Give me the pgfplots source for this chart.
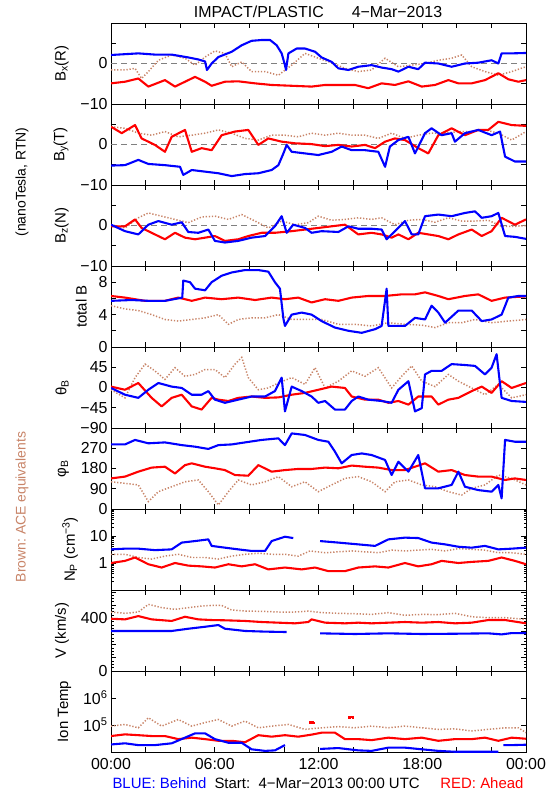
\documentclass[border=0pt]{standalone}
\usepackage{fontspec}
\setmainfont{Liberation Sans}
\usepackage{pgfplots}
\pgfplotsset{compat=1.18}
\definecolor{acebrown}{RGB}{200,132,104}
\definecolor{stblue}{RGB}{0,0,255}
\definecolor{stred}{RGB}{255,0,0}
\newcommand{\fs}{\fontsize{14}{16}\selectfont}
\newcommand{\ft}{\fontsize{16}{18}\selectfont}
\newcommand{\fl}{\fontsize{15}{17}\selectfont}
\pgfplotsset{
  panel/.style={
    scale only axis, width=415bp, height=81bp,
    xmin=0, xmax=24, xtick={0,2,...,24}, xticklabels={},
    tick align=inside, major tick length=5bp, minor tick length=2.5bp,
    axis line style={line width=0.9pt},
    every tick/.style={black, line width=0.8pt},
    tick label style={font=\ft},
    label style={font=\fl},
    ylabel shift=5bp,
    unbounded coords=jump,
    anchor=north west,
  },
  bl/.style={stblue, line width=2.1pt, line join=round},
  rd/.style={stred, line width=2.1pt, line join=round},
  br/.style={acebrown, line width=1.5pt, dash pattern=on 1.3pt off 1.8pt},
  zero/.style={gray, line width=0.8pt, dash pattern=on 6bp off 4bp},
  bfield/.style={ymin=-10, ymax=10, ytick={-10,-5,0,5,10}, yticklabels={−10,,0,,}},
}
\begin{document}
\begin{tikzpicture}
\path[use as bounding box] (0bp,0bp) rectangle (550bp,-800bp);
\node[font=\ft] at (318bp,-12bp) {IMPACT/PLASTIC\hspace{28bp}4−Mar−2013};
\node[font=\fs, rotate=90] at (22bp,-182bp) {(nanoTesla,\ RTN)};
\node[font=\fs, rotate=90, text=acebrown] at (22bp,-507bp) {Brown:\ ACE equivalents};
\node[font=\fl, anchor=west, text=stblue] at (109bp,-783bp) {BLUE:\ Behind};
\node[font=\fl, anchor=west] at (211bp,-783bp) {Start:\ \ 4−Mar−2013 00:00 UTC};
\node[font=\fl, anchor=east, text=stred] at (527bp,-783bp) {RED:\ Ahead};

% ---------------- Bx
\begin{axis}[panel, bfield, at={(111bp,-23bp)}, ylabel={B\textsubscript{x}(R)}]
\addplot[zero] coordinates {(0,0) (24,0)};
\addplot[br] coordinates {(0,-1.6)(0.81,-1.6)(1.39,-1.2)(1.77,-3.7)(2.16,-2.0)(2.74,0.8)(3.51,2.1)(4.28,1.3)(4.86,-0.4)(5.44,1.6)(6.01,3.1)(6.59,2.5)(6.98,-0.8)(7.56,0.4)(8.13,-2.0)(8.91,-2.0)(9.68,-2.9)(10.45,-0.4)(11.22,2.5)(11.99,1.3)(12.76,0.2)(13.53,-1.2)(14.30,-2.0)(15.07,-1.6)(15.85,1.3)(16.62,-0.8)(17.39,-0.4)(18.16,0)(18.93,0.8)(19.70,1.3)(20.28,2.1)(20.86,-0.8)(21.63,-2.0)(22.40,-2.9)(23.17,-2.0)(24,-0.8)};
\addplot[rd] coordinates {(0,-4.9)(0.81,-4.5)(1.58,-3.7)(2.16,-5.7)(3.12,-4.1)(3.70,-5.7)(4.28,-4.5)(4.86,-3.3)(5.44,-4.5)(5.82,-5.5)(6.59,-4.5)(7.36,-4.4)(8.33,-4.9)(9.29,-5.3)(10.45,-5.5)(11.60,-5.7)(12.38,-5.3)(13.15,-5.3)(14.11,-5.3)(14.88,-6.1)(15.65,-4.9)(16.42,-5.3)(17.20,-4.4)(17.97,-5.7)(18.74,-5.3)(19.51,-4.1)(20.09,-4.9)(20.86,-4.9)(21.63,-4.1)(22.40,-2.4)(22.98,-3.9)(23.56,-4.5)(24,-4.1)};
\addplot[bl] coordinates {(0,2.1)(1.58,2.5)(2.54,2.2)(3.51,2.2)(4.47,1.5)(5.05,1.0)(5.44,0.5)(5.55,-1.6)(5.82,0)(6.21,1.6)(6.98,2.9)(7.56,4.5)(8.13,5.6)(8.71,5.8)(9.20,5.8)(9.58,4.5)(9.87,2.5)(10.06,-0.4)(10.12,-1.6)(10.26,2.5)(10.74,3.7)(11.22,3.7)(11.80,2.9)(12.18,1.5)(12.76,0.4)(13.15,-1.2)(13.73,-1.6)(14.30,-0.8)(15.07,-0.4)(15.65,-1.0)(16.23,-1.4)(16.62,-2.0)(17.20,-0.8)(17.77,-1.4)(18.16,0.2)(18.93,0)(19.70,-0.8)(20.47,0)(21.24,0.2)(22.01,0.8)(22.40,0)(22.59,2.5)(23.17,2.5)(24,2.6)};
\end{axis}

% ---------------- By
\begin{axis}[panel, bfield, at={(111bp,-104bp)}, ylabel={B\textsubscript{y}(T)}]
\addplot[zero] coordinates {(0,0) (24,0)};
\addplot[br] coordinates {(0,4.4)(0.81,4.0)(1.58,2.8)(2.35,2.3)(3.12,3.2)(3.89,1.9)(4.67,2.3)(5.44,2.8)(6.21,3.6)(6.98,2.8)(7.75,1.5)(8.52,1.1)(9.29,2.3)(10.06,2.3)(10.83,1.9)(11.60,2.8)(12.38,2.3)(13.15,2.8)(13.92,2.3)(14.69,2.3)(15.46,1.5)(16.23,2.8)(17.00,1.5)(17.77,2.3)(18.54,2.8)(19.32,2.8)(20.09,3.2)(20.86,3.2)(21.63,3.6)(22.40,2.8)(23.17,1.1)(24,3.2)};
\addplot[rd] coordinates {(0,4.4)(0.62,2.8)(1.39,4.8)(1.77,1.5)(2.54,-0.1)(3.12,-1.8)(3.51,1.9)(4.28,3.6)(4.67,-1.8)(5.24,-0.9)(5.82,-1.4)(6.40,2.3)(7.17,3.2)(7.94,3.6)(8.52,-0.1)(9.10,1.5)(9.87,0.7)(10.64,0.3)(11.60,0.1)(12.38,-0.4)(13.15,-0.1)(13.92,-0.5)(14.69,-0.1)(15.27,-0.9)(15.85,0.7)(16.42,1.5)(17.00,1.1)(17.77,-0.9)(18.35,-2.2)(18.93,2.3)(19.70,4.0)(20.47,2.3)(21.24,3.6)(21.82,3.6)(22.40,5.6)(23.17,4.8)(24,4.6)};
\addplot[bl] coordinates {(0,-5.2)(0.81,-5.1)(1.58,-3.8)(2.16,-4.8)(3.12,-5.1)(3.99,-5.5)(4.18,-7.5)(4.67,-6.3)(5.44,-6.7)(6.21,-7.1)(6.98,-7.8)(7.75,-7.3)(8.52,-7.1)(9.29,-6.3)(9.68,-5.1)(9.97,-2.2)(10.16,-0.1)(10.45,-1.8)(11.22,-2.2)(11.99,-2.6)(12.76,-1.8)(13.34,-0.5)(13.92,-1.4)(14.69,-1.4)(15.46,-1.8)(15.85,-5.5)(16.13,-0.5)(16.62,1.1)(17.20,1.9)(17.58,-2.2)(18.16,2.8)(18.54,4.0)(19.12,2.3)(19.70,2.8)(19.89,0.7)(20.47,2.8)(21.24,3.6)(22.01,2.3)(22.50,3.2)(22.79,-3.0)(23.36,-4.2)(24,-4.2)};
\end{axis}

% ---------------- Bz
\begin{axis}[panel, bfield, at={(111bp,-185bp)}, ylabel={B\textsubscript{z}(N)}]
\addplot[zero] coordinates {(0,0) (24,0)};
\addplot[br] coordinates {(0,0.2)(0.81,-0.6)(1.58,1.9)(2.16,3.1)(2.93,2.3)(3.70,1.5)(4.47,0.7)(5.24,2.1)(6.01,2.3)(6.79,1.5)(7.56,2.7)(8.33,1.1)(9.10,-0.6)(9.87,1.1)(10.64,0.2)(11.41,0.7)(11.99,2.3)(12.76,1.3)(13.53,1.5)(14.30,1.9)(15.07,1.5)(15.65,1.9)(16.42,0.2)(17.20,1.3)(17.97,1.5)(18.74,0.8)(19.51,1.9)(20.28,1.1)(21.05,1.1)(21.82,1.3)(22.59,-0.2)(23.36,-0.2)(24,0)};
\addplot[rd] coordinates {(0,-0.2)(0.81,-0.2)(1.39,1.5)(1.77,-0.6)(2.54,-2.2)(3.12,-3.4)(3.70,-1.8)(4.28,-3.0)(4.86,-3.4)(5.44,-3.0)(6.01,-2.6)(6.59,-3.8)(7.36,-3.4)(7.94,-2.6)(8.71,-1.8)(9.48,-1.8)(10.45,-1.4)(11.22,-1.0)(11.99,-0.6)(12.76,-0.2)(13.53,0.2)(14.30,-2.2)(15.07,-1.8)(15.65,-2.2)(16.23,-3.0)(16.62,-2.2)(17.20,-3.4)(17.77,-1.8)(18.35,-2.2)(18.93,-2.6)(19.51,-3.4)(20.09,-2.2)(20.86,-1.0)(21.44,-2.6)(22.01,-1.4)(22.59,1.9)(23.36,0.2)(24,1.5)};
\addplot[bl] coordinates {(0,0.2)(0.81,-1.4)(1.58,-2.2)(2.16,0.2)(2.74,1.1)(3.51,0.2)(4.09,0.8)(4.47,-1.6)(5.05,-1.8)(5.63,-1.0)(6.01,-3.8)(6.59,-4.2)(7.36,-3.8)(8.13,-3.0)(8.91,-2.6)(9.48,-0.2)(9.87,2.3)(10.16,-1.8)(10.54,0.2)(11.22,-0.6)(11.60,-1.8)(12.18,-1.4)(13.15,-1.6)(13.73,-0.2)(14.30,-0.8)(15.07,-0.8)(15.65,-1.0)(15.94,-3.4)(16.42,-1.4)(17.00,1.1)(17.39,-2.2)(17.77,-2.2)(18.16,2.3)(18.93,2.7)(19.70,2.3)(20.47,3.1)(21.05,3.5)(21.44,1.9)(22.01,2.3)(22.40,3.1)(22.79,-2.6)(23.36,-2.8)(24,-3.3)};
\end{axis}

% ---------------- total B
\begin{axis}[panel, at={(111bp,-266bp)}, ymin=0, ymax=10, ytick={0,2,...,10}, yticklabels={0,,4,,8,}, ylabel={total B}]
\addplot[br] coordinates {(0,5.1)(0.81,4.7)(1.58,4.5)(2.35,4.0)(3.12,3.4)(3.89,3.2)(4.67,3.4)(5.44,3.6)(6.21,4.0)(6.79,2.8)(7.36,3.4)(8.13,3.6)(8.91,3.6)(9.68,4.0)(10.45,3.4)(11.22,3.4)(12.18,3.4)(13.15,2.8)(14.11,2.8)(15.07,2.6)(16.04,3.0)(17.00,2.8)(17.97,2.7)(18.74,2.4)(19.51,3.0)(20.28,3.0)(21.05,3.4)(22.01,3.0)(22.98,3.2)(24,3.4)};
\addplot[rd] coordinates {(0,6.3)(0.81,6.1)(1.97,5.7)(3.12,5.7)(3.89,6.1)(4.67,5.7)(5.44,6.1)(6.40,5.9)(7.36,6.1)(8.33,5.8)(9.29,6.1)(10.06,5.9)(10.83,6.1)(11.60,5.5)(12.38,5.9)(13.15,5.7)(13.92,6.1)(14.88,6.3)(15.85,6.3)(16.81,6.5)(17.58,6.5)(18.16,6.75)(18.93,6.3)(19.51,5.9)(20.47,6.3)(21.24,6.5)(22.01,5.7)(22.79,6.1)(24,6.25)};
\addplot[bl] coordinates {(0,5.7)(1.20,5.8)(2.16,5.7)(3.12,5.7)(3.89,6.0)(4.12,6.1)(4.18,8.2)(4.57,8.0)(4.86,7.2)(5.44,7.0)(5.82,8.0)(6.40,8.8)(6.98,9.2)(7.75,9.5)(8.52,9.5)(9.10,9.3)(9.48,8.0)(9.77,7.2)(9.97,3.5)(10.06,2.6)(10.45,4.0)(11.03,4.25)(11.60,4.0)(12.18,3.2)(12.95,2.4)(13.73,2.0)(14.50,1.75)(15.27,2.2)(15.65,2.6)(15.94,7.2)(16.04,2.6)(17.00,2.6)(17.58,3.6)(18.16,3.4)(18.54,5.1)(18.93,4.25)(19.32,3.0)(20.09,4.5)(20.86,4.5)(21.44,3.2)(22.01,3.4)(22.59,4.0)(22.98,6.1)(23.56,6.3)(24,6.3)};
\end{axis}

% ---------------- theta
\begin{axis}[panel, at={(111bp,-347bp)}, ymin=-90, ymax=90, ytick={-90,-45,0,45,90}, yticklabels={−90,−45,0,45,}, ylabel={θ\textsubscript{B}}]
\addplot[br] coordinates {(0,-5)(0.81,-23)(1.39,22)(1.97,52)(2.54,37)(3.12,18)(3.70,44)(4.28,25)(4.86,29)(5.44,40)(6.01,40)(6.59,22)(7.17,52)(7.56,67)(7.94,22)(8.52,-5)(9.10,-1)(9.68,10)(10.45,22)(11.22,7)(11.80,44)(12.38,-1)(13.15,14)(13.92,37)(14.69,25)(15.46,44)(16.23,-1)(16.81,25)(17.39,48)(17.97,14)(18.74,2)(19.51,29)(20.09,14)(20.86,-1)(21.63,-16)(22.40,7)(23.17,-23)(24,-16)};
\addplot[rd] coordinates {(0,2)(0.81,-5)(1.58,10)(2.35,-23)(2.93,-42)(3.51,-23)(4.09,-16)(4.67,-42)(5.24,-49)(5.82,-23)(6.21,-27)(6.79,-30)(7.36,-23)(8.13,-20)(8.91,-23)(9.68,-22)(10.45,-16)(11.22,-12)(11.99,-5)(12.76,2)(13.53,-1)(13.92,-20)(14.69,-27)(15.46,-27)(16.04,-34)(16.62,-30)(17.20,-38)(17.77,-20)(18.54,-20)(18.93,-38)(19.51,-27)(20.09,-23)(20.86,-8)(21.44,2)(22.01,-12)(22.59,14)(23.17,-1)(24,10)};
\addplot[bl] coordinates {(0,-1)(0.81,-16)(1.58,-23)(2.16,-5)(2.74,10)(3.51,2)(4.09,-1)(4.67,-16)(5.24,-16)(5.63,-8)(6.01,-27)(6.59,-34)(7.36,-27)(8.13,-20)(8.91,-20)(9.48,-8)(9.87,22)(10.06,-53)(10.45,2)(11.03,-8)(11.60,-20)(11.99,-34)(12.38,-30)(12.95,-49)(13.53,-49)(13.92,-30)(14.30,-20)(14.88,-27)(15.65,-30)(16.23,-34)(16.62,-5)(17.20,14)(17.58,-53)(17.97,-46)(18.16,29)(18.54,37)(19.12,37)(19.70,52)(20.47,50)(21.05,48)(21.63,29)(22.01,44)(22.30,74)(22.59,-23)(23.17,-30)(24,-32)};
\end{axis}

% ---------------- phi
\begin{axis}[panel, at={(111bp,-428bp)}, ymin=0, ymax=360, ytick={0,90,180,270,360}, yticklabels={0,90,180,270,}, ylabel={φ\textsubscript{B}}]
\addplot[br] coordinates {(0,121)(0.81,114)(1.58,107)(2.16,33)(2.74,77)(3.51,99)(4.28,121)(5.05,129)(5.63,77)(6.21,18)(6.79,77)(7.36,129)(8.13,107)(8.91,121)(9.68,144)(10.45,99)(11.22,121)(11.99,77)(12.76,107)(13.53,136)(14.30,144)(15.07,121)(15.85,77)(16.42,121)(17.20,129)(17.97,107)(18.74,99)(19.51,77)(20.28,62)(20.86,92)(21.63,107)(22.40,151)(23.17,136)(24,107)};
\addplot[rd] coordinates {(0,136)(0.81,144)(1.58,166)(2.35,184)(3.12,188)(3.70,158)(4.28,195)(4.67,203)(5.44,188)(6.01,181)(6.59,173)(7.17,151)(7.94,148)(8.52,195)(9.29,166)(10.06,173)(10.83,178)(11.60,178)(12.38,184)(13.15,181)(13.92,193)(14.69,188)(15.46,184)(16.23,173)(17.00,173)(17.58,188)(18.16,203)(18.93,166)(19.70,173)(20.47,151)(21.24,144)(22.01,144)(22.79,129)(23.36,136)(24,129)};
\addplot[bl] coordinates {(0,287)(0.81,287)(1.39,307)(2.16,292)(3.12,296)(4.09,284)(4.86,277)(5.63,267)(6.21,284)(6.98,287)(7.75,296)(8.71,307)(9.68,314)(10.06,284)(10.45,336)(11.22,329)(11.99,307)(12.57,299)(12.95,255)(13.34,203)(13.92,240)(14.50,247)(15.07,240)(15.85,218)(16.23,151)(16.62,210)(17.20,166)(17.77,240)(18.16,92)(18.93,92)(19.70,107)(20.09,166)(20.47,99)(21.24,84)(22.01,77)(22.40,107)(22.59,47)(22.79,307)(23.36,299)(24,299)};
\end{axis}

% ---------------- Np
\begin{axis}[panel, at={(111bp,-509bp)}, ymode=log, ymin=0.1, ymax=100, ytick={0.1,1,10,100}, yticklabels={,1,10,}, ylabel={N\textsubscript{P} (cm\textsuperscript{−3})}]
\addplot[br] coordinates {(0,2.1)(0.81,2.1)(1.58,1.6)(2.35,1.4)(3.12,1.8)(3.89,2.1)(4.67,1.6)(5.44,1.6)(6.21,1.4)(6.98,1.8)(7.75,2.1)(8.52,2.3)(9.29,2.1)(10.06,2.1)(10.83,1.8)(11.51,2.8)(12.38,2.4)(13.15,2.6)(13.92,2.8)(14.69,2.6)(15.46,2.4)(16.23,3.0)(17.00,2.8)(17.77,3.0)(18.54,3.2)(19.32,2.8)(20.09,3.4)(20.86,3.2)(21.63,3.0)(22.40,2.4)(23.17,2.4)(24,2.1)};
\addplot[rd] coordinates {(0,1.0)(0.81,1.2)(1.39,1.6)(2.16,0.9)(2.93,0.68)(3.70,1.0)(4.47,0.8)(5.24,0.75)(6.01,0.68)(6.79,0.9)(7.56,0.75)(8.33,0.9)(9.10,0.58)(10.06,0.68)(11.03,0.58)(11.80,0.68)(12.57,0.5)(13.53,0.5)(14.30,0.68)(15.27,0.75)(16.04,0.68)(17.00,1.0)(17.77,0.75)(18.54,0.9)(19.12,1.2)(20.09,1.0)(20.86,1.1)(21.82,1.2)(22.59,1.6)(23.36,1.2)(24,0.9)};
\addplot[bl] coordinates {(0,3.2)(0.81,3.4)(1.58,3.4)(2.54,3.0)(3.51,3.2)(4.09,5.7)(4.86,6.5)(5.63,7.5)(5.82,4.3)(6.59,3.7)(7.36,3.2)(8.13,2.8)(8.91,2.8)(9.29,6.5)(10.06,9.4)(10.54,8.4)(10.6,nan)(12.09,6.5)(13.15,5.7)(14.30,4.9)(15.27,4.3)(16.04,7.5)(17.00,8.7)(17.77,8.4)(18.54,5.7)(19.32,4.9)(20.09,4.0)(20.86,3.7)(21.63,4.3)(22.40,3.2)(23.17,3.4)(24,3.7)};
\end{axis}

% ---------------- V
\begin{axis}[panel, at={(111bp,-590bp)}, ymin=0, ymax=615, ytick={0,100,...,600}, yticklabels={0,,,,400,,}, minor y tick num=3, ylabel={V (km/s)}]
\addplot[br] coordinates {(0,448)(0.81,438)(1.58,448)(2.16,506)(2.93,481)(3.70,468)(4.47,481)(5.24,493)(5.82,498)(6.40,498)(6.98,463)(7.75,455)(8.71,453)(9.68,448)(10.64,448)(11.41,455)(12.18,443)(13.15,438)(14.11,435)(15.07,430)(16.04,443)(17.00,423)(17.97,430)(18.93,428)(19.89,438)(20.86,412)(21.82,405)(22.79,405)(24,392)};
\addplot[rd] coordinates {(0,397)(0.81,392)(1.58,417)(2.35,392)(3.51,380)(4.28,412)(5.05,392)(5.82,387)(6.59,385)(7.75,380)(8.71,372)(9.68,367)(10.64,362)(11.41,372)(11.60,392)(12.38,367)(13.53,362)(14.30,367)(15.07,362)(16.04,367)(17.00,372)(17.97,367)(18.93,372)(19.89,362)(20.86,367)(21.82,387)(22.79,387)(24,362)};
\addplot[bl] coordinates {(0,304)(1.58,304)(3.51,304)(4.47,321)(5.44,336)(6.21,349)(6.59,321)(7.75,304)(8.91,299)(10.16,296)(10.6,nan)(12.09,286)(14.11,281)(16.04,286)(17.97,281)(19.89,283)(21.82,286)(22.59,278)(23.17,288)(24,288)};
\end{axis}

% ---------------- Ion Temp
\begin{axis}[panel, at={(111bp,-671bp)}, ymode=log, ymin=1e4, ymax=1e7, ytick={1e4,1e5,1e6,1e7}, yticklabels={,10\textsuperscript{5},10\textsuperscript{6},}, yminorticks=false, ylabel={Ion Temp},
  xticklabels={00:00,,,06:00,,,12:00,,,18:00,,,00:00}, xticklabel style={yshift=-3bp}]
\addplot[br] coordinates {(0,9.1e4)(0.81,1.05e5)(1.58,7.9e4)(2.16,1.86e5)(2.93,9.1e4)(3.89,1.6e5)(4.67,9.1e4)(5.44,1.23e5)(6.21,1.6e5)(6.98,9.1e4)(7.75,1.4e5)(8.52,7.9e4)(9.29,9.1e4)(10.26,1.05e5)(11.22,6.9e4)(12.18,7.9e4)(13.15,8.7e4)(14.11,7.9e4)(15.07,9.1e4)(16.04,7.9e4)(17.00,9.1e4)(17.97,7.9e4)(18.93,6.9e4)(19.89,7.2e4)(20.86,6.0e4)(21.82,6.9e4)(22.79,7.9e4)(23.56,7.9e4)(24,5.2e4)};
\addplot[rd] coordinates {(0,3.9e4)(0.81,4.5e4)(1.58,4.2e4)(2.35,3.9e4)(3.12,3.9e4)(3.89,3.0e4)(4.67,3.4e4)(5.44,3.0e4)(6.21,2.6e4)(6.98,2.6e4)(7.75,2.3e4)(8.52,4.2e4)(9.29,3.7e4)(10.06,4.2e4)(10.83,3.7e4)(11.60,4.4e4)(12.18,5.2e4)(12.95,5.2e4)(13.53,3.0e4)(14.30,3.0e4)(15.07,2.75e4)(16.04,3.4e4)(17.00,3.0e4)(17.97,3.4e4)(18.93,2.6e4)(19.89,3.0e4)(20.86,3.0e4)(21.63,3.4e4)(22.40,2.6e4)(23.17,3.4e4)(24,3.1e4)};
\addplot[stred, only marks, mark=square*, mark size=0.8pt] coordinates {(11.50,1.3e5)(11.62,1.25e5)(11.72,1.2e5)(13.78,1.95e5)(13.88,2.0e5)(13.98,1.9e5)};
\addplot[bl] coordinates {(0,1.9e4)(0.81,2.1e4)(1.58,1.8e4)(2.54,1.8e4)(3.51,2.1e4)(4.28,3.4e4)(4.86,4.9e4)(5.44,4.9e4)(6.01,3.0e4)(6.79,2.2e4)(7.56,2.2e4)(8.13,1.26e4)(8.91,1.1e4)(9.48,1.15e4)(10.06,1.8e4)(10.3,nan)(12.09,1.3e4)(13.15,1.4e4)(14.30,1.15e4)(15.07,1.1e4)(16.04,1.45e4)(17.00,1.45e4)(17.97,1.26e4)(18.93,1.1e4)(19.89,1.02e4)(20.86,1.02e4)(21.82,1.02e4)(22.40,1.02e4)(22.5,nan)(22.69,1.8e4)(23.17,1.8e4)(24,1.86e4)};
\end{axis}
\end{tikzpicture}
\end{document}
